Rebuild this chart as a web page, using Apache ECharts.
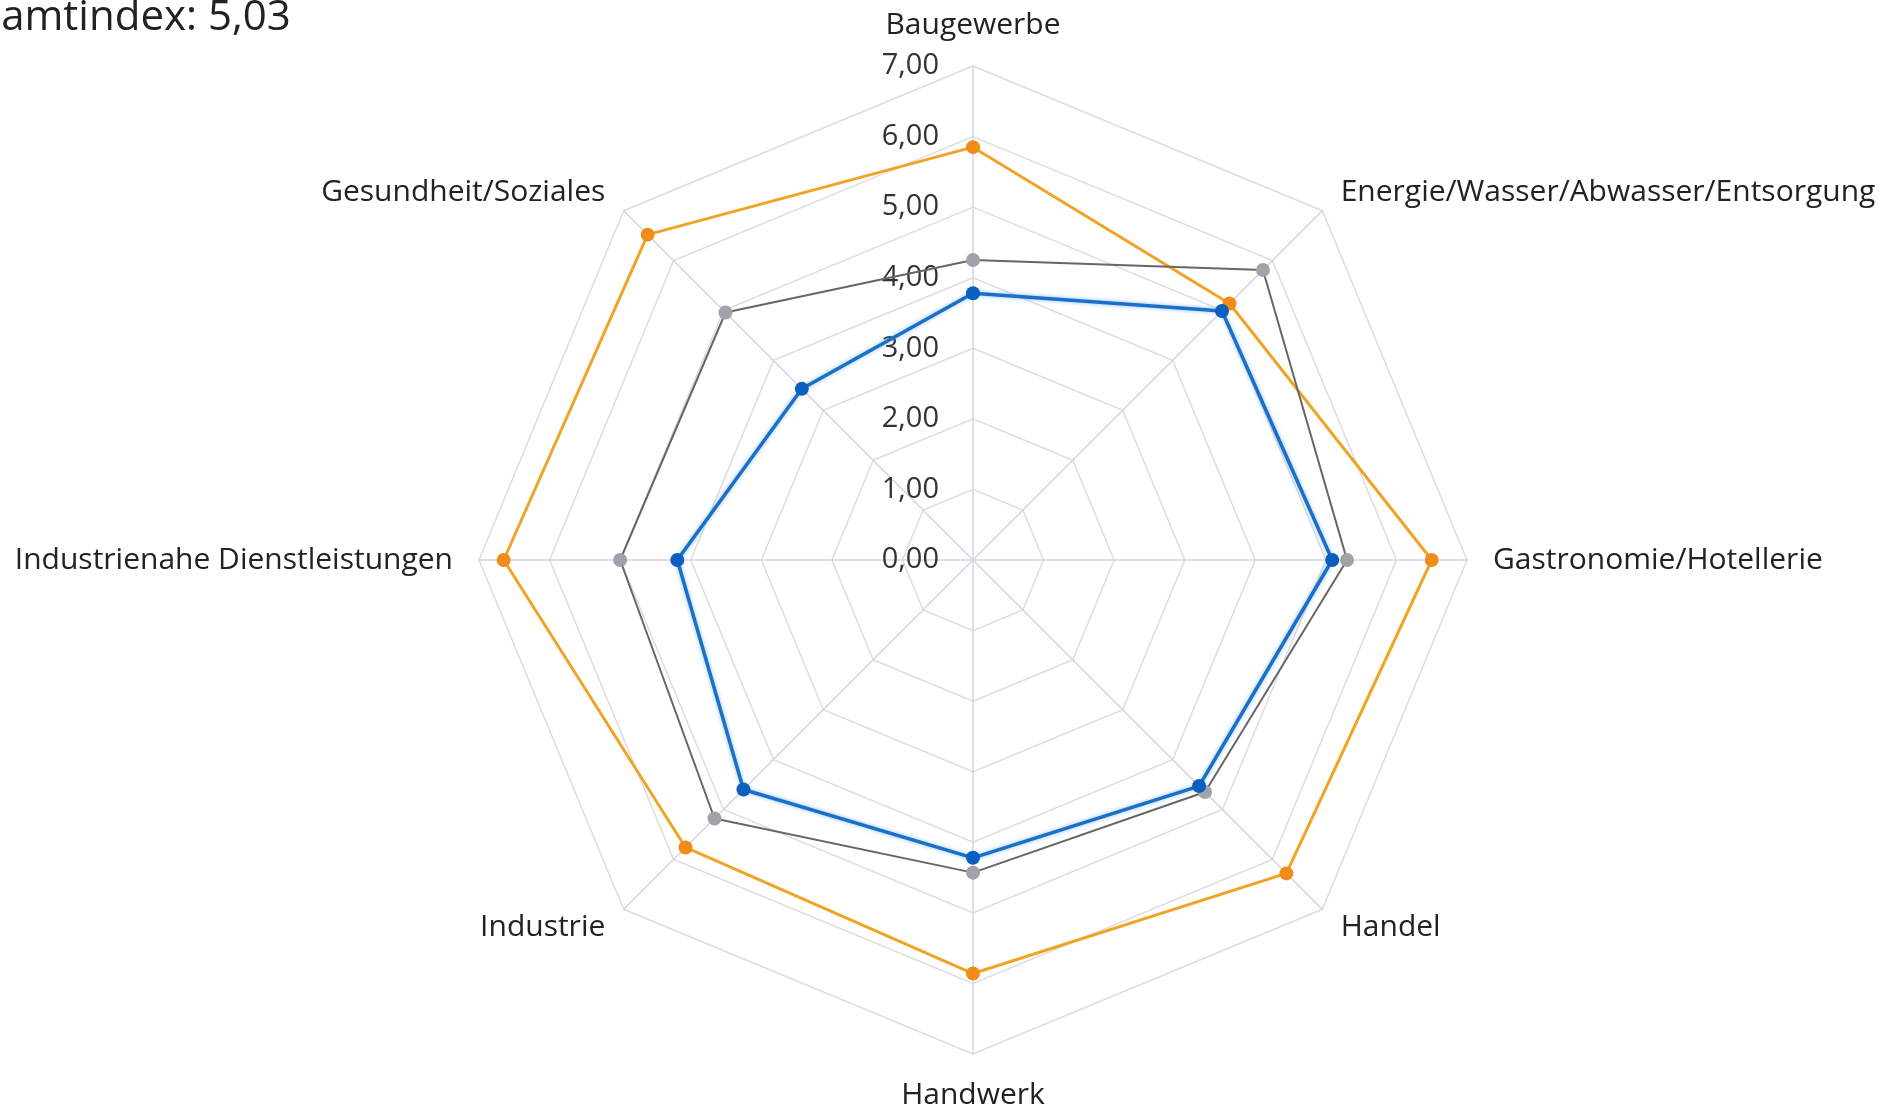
<!DOCTYPE html>
<html>
<head>
<meta charset="utf-8">
<script src="https://cdn.jsdelivr.net/npm/echarts@6/dist/echarts.min.js"></script>
<style>
  html, body { margin: 0; padding: 0; background: #fff; }
  #chart { width: 1885px; height: 1113px; }
</style>
</head>
<body>
<div id="chart"></div>
<script>
// radar goes counterclockwise in echarts, so categories are listed that way
var categories = ['Baugewerbe', 'Gesundheit/Soziales', 'Industrienahe Dienstleistungen', 'Industrie',
    'Handwerk', 'Handel', 'Gastronomie/Hotellerie', 'Energie/Wasser/Abwasser/Entsorgung'];
var orangeValues = [5.85, 6.52, 6.65, 5.76, 5.86, 6.28, 6.50, 5.14];
var greyValues = [4.25, 4.96, 5.00, 5.18, 4.43, 4.65, 5.30, 5.81];
var blueValues = [3.78, 3.43, 4.19, 4.60, 4.22, 4.53, 5.09, 4.99];
var tickValues = [0, 1, 2, 3, 4, 5, 6, 7];
var titleText = 'Gesamtindex: 5,03';

var myChart = echarts.init(document.getElementById('chart'));
var font = 'Open Sans';

var indicator = categories.map(function (name, i) {
    var item = { name: name, min: tickValues[0], max: tickValues[tickValues.length - 1] };
    if (i === 0) {
        // only the top axis carries the value labels
        item.axisLabel = {
            show: true,
            color: '#333',
            fontSize: 29,
            fontFamily: font,
            margin: 34,
            formatter: function (v) { return v.toFixed(2).replace('.', ','); }
        };
    }
    return item;
});

var option = {
    backgroundColor: '#fff',
    graphic: [{
        type: 'text',
        left: -73,
        top: -3,
        style: {
            text: titleText,
            fill: '#222',
            font: '42px "Open Sans"'
        }
    }],
    radar: {
        center: [973, 560],
        radius: 494,
        startAngle: 90,
        shape: 'polygon',
        splitNumber: tickValues.length - 1,
        indicator: indicator,
        nameGap: 26,
        axisName: {
            color: '#222',
            fontSize: 30,
            fontFamily: font
        },
        axisLine: { lineStyle: { color: '#d4d4e8', width: 1.5 } },
        splitLine: { lineStyle: { color: '#dcdce4', width: 1.5 } },
        splitArea: { show: false },
        axisLabel: { show: false }
    },
    series: [{
        type: 'radar',
        symbol: 'circle',
        symbolSize: 14,
        z: 2,
        data: [
            {
                value: orangeValues,
                lineStyle: { color: '#f0a426', width: 3 },
                itemStyle: { color: '#f28c18' }
            },
            {
                value: greyValues,
                lineStyle: { color: '#666', width: 2 },
                itemStyle: { color: '#a2a2aa' }
            },
            {
                value: blueValues,
                lineStyle: { color: '#1c6fc6', width: 3.5, shadowColor: 'rgba(90,170,240,0.7)', shadowBlur: 4 },
                itemStyle: { color: '#0b5fbf' }
            }
        ]
    }]
};
option && myChart.setOption(option);
</script>
</body>
</html>
